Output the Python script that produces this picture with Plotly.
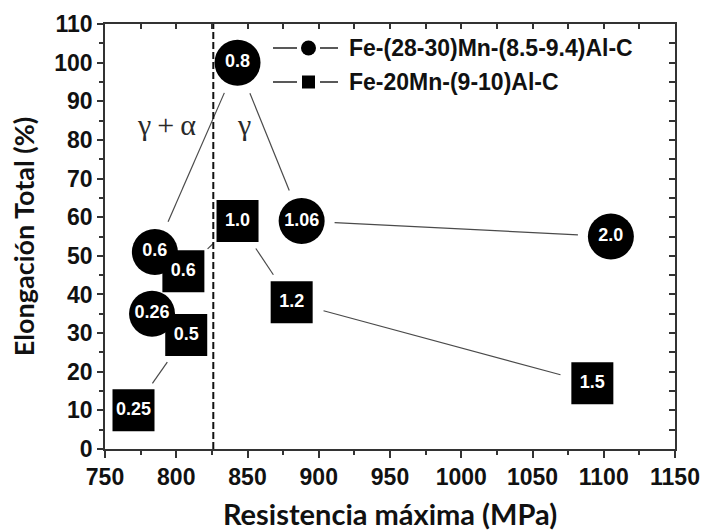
import math
import plotly.graph_objects as go

# ---------------- data ----------------
circ_label = ["0.26", "0.6", "0.8", "1.06", "2.0"]
circ_x = [783, 785, 843, 888, 1105]
circ_y = [35, 51, 100, 59, 55]

sq_label = ["0.25", "0.5", "0.6", "1.0", "1.2", "1.5"]
sq_x = [770, 807, 805, 843, 881, 1092]
sq_y = [10, 29.5, 46, 59, 38, 17]

series_names = ["Fe-(28-30)Mn-(8.5-9.4)Al-C", "Fe-20Mn-(9-10)Al-C"]
phase_boundary = 826
x_ticks = list(range(750, 1151, 50))
y_ticks = list(range(0, 111, 10))

# ---------------- layout geometry ----------------
W, H = 704, 531
ML, MR, MT, MB = 105, 29, 24, 82
PW, PH = W - ML - MR, H - MT - MB
XR = [750, 1150]
YR = [0, 110]


def to_px(x, y):
    return ((x - XR[0]) / (XR[1] - XR[0]) * PW, (YR[1] - y) / (YR[1] - YR[0]) * PH)


def to_data(px, py):
    return (XR[0] + px / PW * (XR[1] - XR[0]), YR[1] - py / PH * (YR[1] - YR[0]))


def gapped_segments(xs, ys, gap=33):
    ox, oy = [], []
    for i in range(len(xs) - 1):
        ax, ay = to_px(xs[i], ys[i])
        bx, by = to_px(xs[i + 1], ys[i + 1])
        d = math.hypot(bx - ax, by - ay)
        if d <= 2 * gap:
            continue
        ux, uy = (bx - ax) / d, (by - ay) / d
        p0 = to_data(ax + ux * gap, ay + uy * gap)
        p1 = to_data(bx - ux * gap, by - uy * gap)
        ox += [p0[0], p1[0], None]
        oy += [p0[1], p1[1], None]
    return ox, oy


fig = go.Figure()

line_col = "#4a4a4a"
for xs, ys in [(circ_x, circ_y), (sq_x, sq_y)]:
    lx, ly = gapped_segments(xs, ys)
    fig.add_trace(go.Scatter(x=lx, y=ly, mode="lines", line=dict(color=line_col, width=1.2),
                             hoverinfo="skip", showlegend=False))

# phase boundary
fig.add_trace(go.Scatter(x=[phase_boundary, phase_boundary], y=[YR[0], YR[1]], mode="lines",
                         line=dict(color="#111111", width=2, dash="7px,3px"),
                         hoverinfo="skip", showlegend=False))

# markers
fig.add_trace(go.Scatter(x=circ_x, y=circ_y, mode="markers",
                         marker=dict(symbol="circle", size=46, color="black"),
                         name=series_names[0], showlegend=False))
fig.add_trace(go.Scatter(x=sq_x, y=sq_y, mode="markers",
                         marker=dict(symbol="square", size=42, color="black"),
                         name=series_names[1], showlegend=False))

# marker labels (drawn above all markers)
label_font = dict(family="Liberation Sans, Arial", size=18, color="white", weight="bold")
for xs, ys, labels in [(circ_x, circ_y, circ_label), (sq_x, sq_y, sq_label)]:
    fig.add_trace(go.Scatter(x=xs, y=ys, mode="text", text=labels, textposition="middle center",
                             textfont=label_font, hoverinfo="skip", showlegend=False))

# dummy trace for the mirrored axes
fig.add_trace(go.Scatter(x=[None], y=[None], xaxis="x2", yaxis="y2", showlegend=False, hoverinfo="skip"))

# phase labels
phase_font = dict(family="Liberation Serif, Times New Roman", size=30, color="#2a2a2a")
fig.add_annotation(x=793.5, y=84, text="γ\u2009+\u2009α", showarrow=False, font=phase_font)
fig.add_annotation(x=847.5, y=84, text="γ", showarrow=False, font=phase_font)

# manual legend
def px2paper(px, py):
    return ((px - ML) / PW, (H - MB - py) / PH)

leg_rows = [(48, "circle", 15), (82, "square", 13)]
shapes = []
for (py, sym, sz), name in zip(leg_rows, series_names):
    xa, yp = px2paper(273, py)
    xb, _ = px2paper(297, py)
    xc, _ = px2paper(320, py)
    xd, _ = px2paper(338, py)
    xm, _ = px2paper(308.5, py)
    for x0, x1 in [(xa, xb), (xc, xd)]:
        shapes.append(dict(type="line", xref="paper", yref="paper", x0=x0, x1=x1, y0=yp, y1=yp,
                           line=dict(color="#222222", width=1.5)))
    shapes.append(dict(type="circle" if sym == "circle" else "rect", xref="paper", yref="paper",
                       xsizemode="pixel", ysizemode="pixel", xanchor=xm, yanchor=yp,
                       x0=-sz / 2, x1=sz / 2, y0=-sz / 2, y1=sz / 2,
                       fillcolor="black", line=dict(width=0)))
    tx, _ = px2paper(347, py)
    fig.add_annotation(xref="paper", yref="paper", x=tx, y=yp, xanchor="left", yanchor="middle",
                       text=name, showarrow=False,
                       font=dict(family="Liberation Sans, Arial", size=23, color="#111111", weight="bold"))

tick_font = dict(family="Liberation Sans, Arial", size=23, color="#111111", weight="bold")
axis_col = "#333333"

fig.update_layout(
    width=W, height=H,
    margin=dict(l=ML, r=MR, t=MT, b=MB, pad=0, autoexpand=False),
    paper_bgcolor="white", plot_bgcolor="white",
    showlegend=False,
    shapes=shapes,
    xaxis=dict(range=XR, tickvals=x_ticks, ticks="outside", ticklen=7, tickwidth=1.5,
               tickcolor=axis_col, showline=True, linecolor=axis_col, linewidth=1.5,
               showgrid=False, zeroline=False, tickfont=tick_font, automargin=False,
               minor=dict(dtick=25, ticks="outside", ticklen=4, tickwidth=1.5, tickcolor=axis_col, showgrid=False),
               title=dict(text="Resistencia máxima (MPa)",
                          font=dict(family="Lato, Open Sans", size=29, color="#111111", weight="bold"),
                          standoff=20)),
    yaxis=dict(range=YR, tickvals=y_ticks, ticks="outside", ticklen=6, tickwidth=1.5,
               tickcolor=axis_col, showline=True, linecolor=axis_col, linewidth=1.5,
               showgrid=False, zeroline=False, tickfont=tick_font, automargin=False,
               minor=dict(dtick=5, ticks="outside", ticklen=4, tickwidth=1.5, tickcolor=axis_col, showgrid=False),
               title=dict(text="Elongación Total (%)",
                          font=dict(family="Lato, Open Sans", size=27, color="#111111", weight="bold"),
                          standoff=12)),
    xaxis2=dict(overlaying="x", side="top", matches="x", range=XR, tickvals=list(range(750, 1151, 25)),
                ticks="inside", ticklen=5, tickwidth=1.5, tickcolor=axis_col, automargin=False,
                showticklabels=False, showline=True, linecolor=axis_col, linewidth=1.5,
                showgrid=False, zeroline=False),
    yaxis2=dict(overlaying="y", side="right", matches="y", range=YR, tickvals=list(range(0, 111, 5)),
                ticks="inside", ticklen=6, tickwidth=1.5, tickcolor=axis_col, automargin=False,
                showticklabels=False, showline=True, linecolor=axis_col, linewidth=1.5,
                showgrid=False, zeroline=False),
)

fig.write_html("out.html", config={"displayModeBar": False},
               post_script="document.body.style.margin='0px';")
